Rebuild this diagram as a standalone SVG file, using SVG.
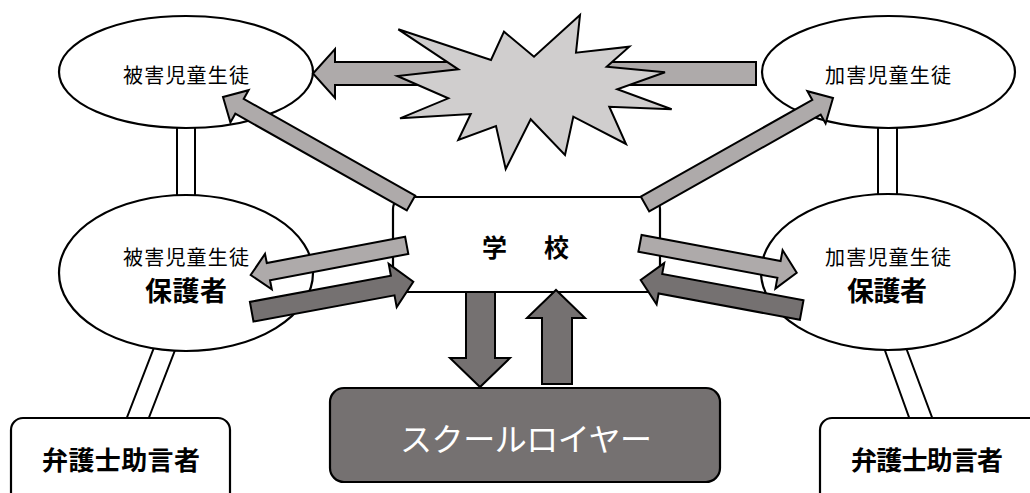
<svg xmlns="http://www.w3.org/2000/svg" width="1030" height="493" viewBox="0 0 1030 493">
<style>
.ln{fill:#fff;stroke:#000;stroke-width:2}
.node{fill:#fff;stroke:#000;stroke-width:2.2}
.lt{fill:#aeaaaa;stroke:#000;stroke-width:2;stroke-linejoin:miter}
.dk{fill:#757171;stroke:#000;stroke-width:2;stroke-linejoin:miter}
.boom{fill:#d0cece;stroke:#000;stroke-width:2;stroke-linejoin:miter}
text{font-family:"Noto Sans CJK JP","Noto Sans CJK SC",sans-serif;text-anchor:middle;dominant-baseline:central;fill:#000}
.sm{font-size:20px}
.bg{font-size:27px;font-weight:bold}
.bx{font-size:26px;font-weight:bold}
</style>
<rect width="1030" height="493" fill="#fff"/>
<g id="links">
<rect class="ln" x="177" y="120" width="18" height="80"/>
<rect class="ln" x="878" y="120" width="19" height="80"/>
<polygon class="ln" points="155,345 177,345 148,420 126,420"/>
<polygon class="ln" points="883,345 905,345 933,420 910,420"/>
</g>
<g id="victim">
<ellipse class="node" cx="186" cy="72" rx="127" ry="56"/>
<text class="sm" x="186" y="74" textLength="126" lengthAdjust="spacing">被害児童生徒</text>
</g>
<g id="offender">
<ellipse class="node" cx="888.5" cy="72" rx="126.5" ry="56"/>
<text class="sm" x="888" y="74" textLength="126" lengthAdjust="spacing">加害児童生徒</text>
</g>
<g id="victim-parent">
<ellipse class="node" cx="186" cy="273" rx="127" ry="78"/>
<text class="sm" x="186" y="256" textLength="126" lengthAdjust="spacing">被害児童生徒</text>
<text class="bg" x="186" y="289" textLength="82" lengthAdjust="spacing">保護者</text>
</g>
<g id="offender-parent">
<ellipse class="node" cx="888" cy="272" rx="127" ry="78"/>
<text class="sm" x="888" y="256" textLength="126" lengthAdjust="spacing">加害児童生徒</text>
<text class="bg" x="887" y="289" textLength="80" lengthAdjust="spacing">保護者</text>
</g>
<g id="lawyer-left">
<rect class="node" x="11" y="418" width="219" height="90" rx="12"/>
<text class="bx" x="121" y="458" textLength="158" lengthAdjust="spacing">弁護士助言者</text>
</g>
<g id="lawyer-right">
<rect class="node" x="820" y="418" width="230" height="90" rx="12"/>
<text class="bx" x="927" y="458" textLength="152" lengthAdjust="spacing">弁護士助言者</text>
</g>
<g id="school">
<rect class="node" x="393" y="197" width="267" height="95" rx="12"/>
<text x="494.5" y="246" style="font-size:25px;font-weight:bold">学</text>
<text x="556.5" y="246" style="font-size:25px;font-weight:bold">校</text>
</g>
<g id="school-lawyer">
<rect x="330" y="388" width="390" height="94" rx="14" fill="#757171" stroke="#000" stroke-width="2.2"/>
<text x="526" y="437" textLength="252" lengthAdjust="spacing" style="font-size:32px;fill:#fff">スクールロイヤー</text>
</g>
<g id="arrows">
<polygon class="lt" points="756,62 335,62 335,49 313,73.5 335,98 335,85 756,85"/>
<polygon class="lt" points="415.2,195.6 243.7,98.9 248.6,90.2 223,97 230.4,122.4 235.3,113.7 406.8,210.4"/>
<polygon class="lt" points="649.2,211.4 820.7,114.7 825.6,123.4 833,98 807.4,91.2 812.3,99.9 640.8,196.6"/>
<polygon class="lt" points="405.1,236.7 266.8,263 265,253.9 250.7,275 271.8,289.3 270,280.2 408.3,253.9"/>
<polygon class="dk" points="253.5,321.5 394.5,295.3 396.7,307.1 413.3,281.7 388.7,263.9 390.9,275.7 249.9,301.9"/>
<polygon class="lt" points="638.4,251.7 777.4,277.8 775.4,288.6 796.7,272.7 782.6,250.2 780.6,261 641.6,234.9"/>
<polygon class="dk" points="803.5,300.2 662.2,273.9 664.2,263.1 640.7,280 656.6,304.3 658.6,293.5 799.9,319.8"/>
<polygon class="dk" points="466,292 495,292 495,358 510,358 480,387 450,358 466,358"/>
<polygon class="dk" points="542,384 572,384 572,318 585,318 556,290 527,318 542,318"/>
</g>
<g id="conflict">
<polygon class="boom" points="398.3,29.3 491,60 504,31.7 534,56.7 580,15 576,52.7 629.3,46.7 606.7,66.7 665,72.3 617.3,89.3 671.7,109.3 609.3,106.7 626,144 573.3,116.7 565,155 530.7,119.3 505.7,169 496,126 458.3,140 470.7,114 400,118.3 448.3,98.3 397.3,76 458.3,69.3"/>
</g>
</svg>
